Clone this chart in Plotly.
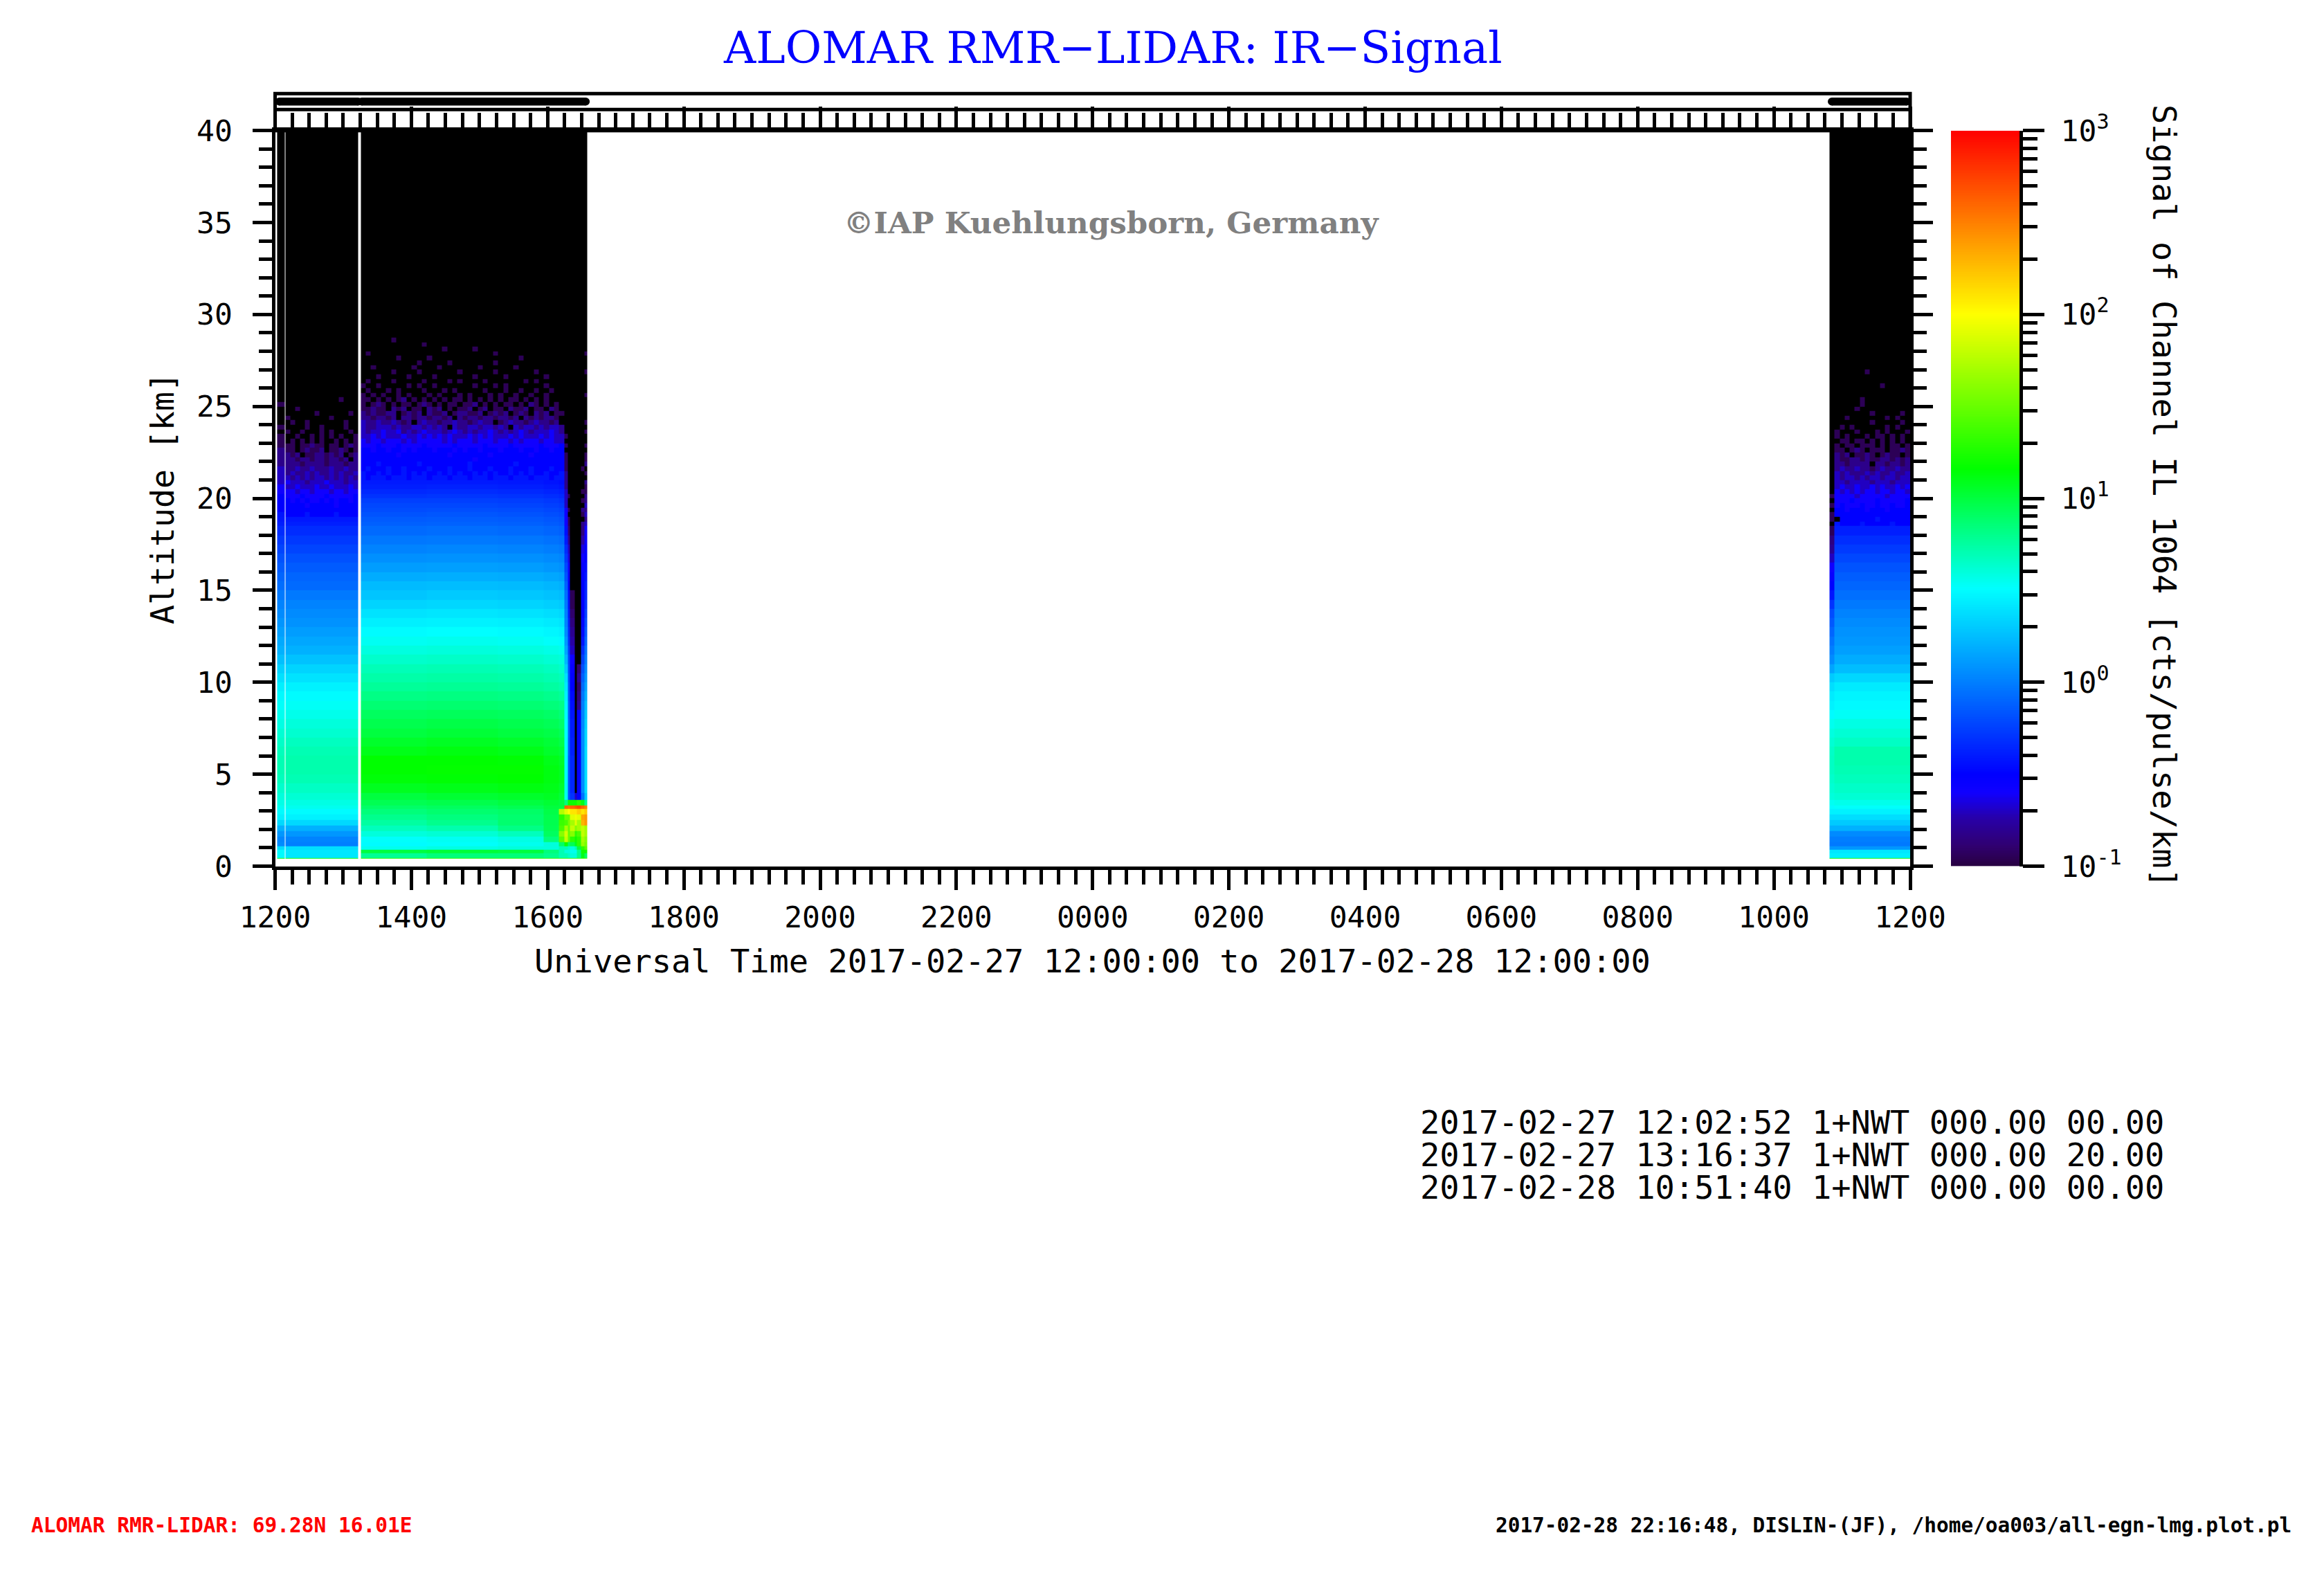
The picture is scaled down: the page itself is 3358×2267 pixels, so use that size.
import numpy as np
import plotly.graph_objects as go

W, H = 3358, 2267
PX_L, PX_R, PX_T, PX_B = 397.5, 2760.0, 188.7, 1251.5
CB_L, CB_R = 2819.0, 2918.0
STRIP_T, STRIP_B = 135.3, 158.3

TITLE = "ALOMAR RMR\u2212LIDAR: IR\u2212Signal"
WATERMARK = "\u00a9IAP Kuehlungsborn, Germany"
XLABEL = "Universal Time 2017-02-27 12:00:00 to 2017-02-28 12:00:00"
YLABEL = "Altitude [km]"
CBLABEL = "Signal of Channel IL 1064 [cts/pulse/km]"
INFO_LINES = ["2017-02-27 12:02:52 1+NWT 000.00 00.00",
              "2017-02-27 13:16:37 1+NWT 000.00 20.00",
              "2017-02-28 10:51:40 1+NWT 000.00 00.00"]
FOOT_LEFT = "ALOMAR RMR-LIDAR: 69.28N 16.01E"
FOOT_RIGHT = "2017-02-28 22:16:48, DISLIN-(JF), /home/oa003/all-egn-lmg.plot.pl"
X_TICK_HOURS = [0, 2, 4, 6, 8, 10, 12, 14, 16, 18, 20, 22, 24]
X_TICK_TEXT = ["1200", "1400", "1600", "1800", "2000", "2200", "0000",
               "0200", "0400", "0600", "0800", "1000", "1200"]
Y_TICKS = [0, 5, 10, 15, 20, 25, 30, 35, 40]
CB_TICK_EXP = [-1, 0, 1, 2, 3]

# measurement bars in the top strip (hours after 12 UT)
STRIP_RUNS = [(0.06, 1.22), (1.27, 4.56), (22.85, 23.95)]

# colour table: log10(signal) -> colour
COLOR_LOGS = [-1.0, -0.89, -0.74, -0.60, -0.50, 0.51, 1.16, 2.0, 3.0]
COLOR_HEX = ["#280040", "#300070", "#2800a8", "#1000ff", "#0000ff", "#00ffff", "#00ff00", "#ffff00", "#ff0000"]
BLACK_LOG = -1.3

# lower altitude edge of every row (km)
ALT_EDGES = [0.4, 0.44, 0.7, 0.9, 1.1, 1.3, 1.6, 1.9, 2.2, 2.5, 2.8, 3.1, 3.3, 3.6,
             4.0, 4.5, 5.0, 5.5, 6.0, 6.5, 7.0, 7.5, 8.0, 8.5, 9.0, 9.5, 10.0, 10.5, 11.0,
             11.5, 12.0, 12.5, 13.0, 13.5, 14.0, 14.5, 15.0, 15.5, 16.0, 16.5, 17.0, 17.5, 18.0,
             18.5, 18.75, 19.0, 19.25, 19.5, 19.75, 20.0, 20.25, 20.5, 20.75, 21.0, 21.25, 21.5,
             21.75, 22.0, 22.25, 22.5, 22.75, 23.0, 23.25, 23.5, 23.75, 24.0, 24.25, 24.5, 24.75,
             25.0, 25.25, 25.5, 25.75, 26.0, 26.25, 26.5, 26.75, 27.0, 27.25, 27.5, 27.75, 28.0,
             28.25, 28.5, 28.75, 29.0, 40.0]

# log10 signal profiles, bottom row first
PROFILE_A0 = [1.2, .50, .50, .38, .05, .03, .10, .20, .36, .46, .50, .54, .57, .60,
              .64, .68, .70, .70, .68, .65, .62, .58, .55, .52, .49, .45, .39, .33, .26,
              .20, .17, .13, .09, .05, .02, -.02, -.07, -.10, -.14, -.18, -.23, -.28, -.33, -.38, -.41]
PROFILE_A = [1.2, .42, .42, .38, .00, .02, .10, .20, .36, .46, .50, .55, .58, .62,
             .66, .70, .72, .72, .70, .67, .63, .60, .56, .53, .50, .46, .40, .34, .27,
             .20, .16, .12, .08, .05, .02, -.02, -.08, -.10, -.14, -.18, -.23, -.28, -.33, -.38, -.41]
PROFILE_B1 = [1.3, .78, 1.0, .55, .50, .52, .60, .68, .75, .80, .85, .90, .95, 1.0,
              1.08, 1.14, 1.16, 1.16, 1.10, 1.05, 1.0, .96, .92, .87, .82, .77, .73, .69, .64,
              .59, .54, .50, .45, .40, .34, .28, .24, .18, .12, .07, .02, -.03, -.08,
              -.12, -.14, -.17, -.20, -.22, -.25, -.30, -.34, -.38, -.40]
PROFILE_B2 = [1.3, .85, 1.02, .58, .52, .54, .62, .72, .80, .84, .88, .92, .97, 1.03,
              1.10, 1.15, 1.17, 1.16, 1.12, 1.07, 1.02, .98, .93, .88, .83, .78, .74, .70, .65,
              .60, .55, .51, .46, .41, .35, .30, .25, .19, .13, .08, .03, -.02, -.07,
              -.11, -.13, -.16, -.19, -.22, -.25, -.29, -.33, -.37, -.40]
PROFILE_B3 = [1.3, .85, 1.0, .60, .55, .58, .68, .82, .88, .88, .90, .95, 1.0, 1.05,
              1.12, 1.16, 1.17, 1.15, 1.10, 1.05, 1.0, .96, .92, .87, .82, .77, .73, .69, .64,
              .59, .54, .50, .45, .40, .34, .29, .24, .18, .12, .07, .02, -.03, -.08,
              -.12, -.14, -.17, -.20, -.23, -.26, -.30, -.34, -.38, -.41]
PROFILE_B4 = [1.3, .80, .85, .60, .60, .85, .92, .95, .96, .96, .98, 1.0, 1.03, 1.07,
              1.10, 1.12, 1.12, 1.10, 1.05, 1.02, .98, .94, .90, .85, .80, .75, .71, .67, .62,
              .57, .52, .48, .43, .38, .32, .27, .22, .16, .10, .05, .00, -.05, -.10,
              -.14, -.16, -.19, -.22, -.25, -.28, -.32, -.36, -.40, -.43]
PROFILE_B5 = [1.3, .70, .70, .70, .90, 1.45, 1.60, 1.40, 1.35, 1.30, 1.75, 1.0, 1.0, 1.02,
              1.05, 1.08, 1.08, 1.06, 1.02, .98, .94, .90, .86, .82, .77, .72, .68, .64, .60,
              .55, .50, .46, .41, .36, .30, .25, .20, .14, .08, .03, -.02, -.07, -.12,
              -.16, -.18, -.21, -.24, -.27, -.30, -.34, -.38, -.42, -.45]
PROFILE_C0 = [1.2, .45, .42, .10, -.02, .00, .05, .20, .30, .38, .46, .50, .54, .60,
              .62, .64, .66, .66, .65, .62, .59, .55, .50, .46, .43, .38, .30, .15, .05,
              .00, -.05, -.10, -.15, -.20, -.30, -.42, -.50, -.55, -.60, -.70, -.80, -.85, -.95]
PROFILE_C = [1.2, .45, .42, .10, -.02, .00, .05, .20, .30, .38, .46, .52, .56, .62,
             .65, .68, .70, .72, .72, .66, .62, .58, .53, .49, .47, .43, .35, .25, .18,
             .13, .10, .08, .05, .02, -.02, -.06, -.10, -.13, -.17, -.22, -.27, -.32, -.38]

# the columns beside the low cloud near 16:20 UT, left to right
BAND_EDGES = [4.243, 4.294, 4.324, 4.395, 4.431, 4.487, 4.538, 4.578]
PROFILE_BAND1 = [1.3, .7, .6, .7, 1.2, 1.8, 1.85, 1.7, 1.4, 1.5, 1.9, 2.6, .85, .55,
                 .55, .53, .52, .52, .52, .52, .51, .51, .50, .48, .45, .42, .38, .30, .22,
                 .15, .10, .05, .02, .00, -.03, -.07, -.12, -.17, -.22, -.28, -.33, -.40, -.45]
PROFILE_BAND2 = [1.3, .65, .6, .65, .9, 1.5, 1.5, 1.5, 1.55, 1.5, 2.0, 2.55, 1.2, -.15,
                 -.15, -.15, -.15, -.15, -.12, -.12, -.10, -.10, -.12, -.12, -.15, -.15, -.18, -.20, -.22,
                 -.25, -.30, -.33, -.36, -.40, -.43, -.46, -.50, -.55, -.60, -.65, -.70, -.80, -.90]
PROFILE_BAND3 = [1.3, .6, .55, .6, .95, 1.3, 1.6, 1.8, 1.7, 1.9, 2.1, 2.6, 1.2, -.3,
                 -.35, -.35, -.35, -.35, -.38, -.38, -.40, -.40, -.42, -.45, -.47, -.50, -.52, -.55, -.60,
                 -.70, -.75, -.80, -.85, -.90, -.95, -.95, -1.3, -1.3, -1.3, -1.3, -1.3, -1.3, -1.3]
PROFILE_BAND4 = [1.3, .6, .55, .7, 1.1, 1.2, 1.3, 1.6, 1.9, 1.95, 2.1, 2.65, 1.2, -.7,
                 -1.3, -1.3, -1.3, -1.3, -1.3, -1.3, -1.3, -1.3, -1.3, -1.3, -1.3, -1.3, -1.3, -1.3, -1.3,
                 -1.3, -1.3, -1.3, -1.3, -1.3, -1.3, -1.3, -1.3, -1.3, -1.3, -1.3, -1.3, -1.3, -1.3]
PROFILE_BAND5 = [1.3, .8, .8, 1.0, 1.3, 1.3, 1.4, 1.7, 1.7, 1.9, 2.2, 2.7, 1.3, -.5,
                 -.52, -.52, -.52, -.52, -.52, -.52, -.52, -.52, -.52, -.80, -.85, -.90, -.80, -.90, -1.3,
                 -1.3, -1.3, -1.3, -1.3, -1.3, -1.3, -1.3, -1.3, -1.3, -1.3, -1.3, -1.3, -1.3, -1.3]
PROFILE_BAND6 = [1.3, 1.1, 1.2, 1.3, 1.65, 1.7, 1.8, 1.8, 2.3, 2.35, 2.1, 2.6, 1.1, -.05,
                 .05, .05, .05, .05, .05, .05, .05, .03, .02, .00, -.03, -.07, -.12, -.18, -.25,
                 -.33, -.42, -.46, -.48, -.50, -.50, -.50, -.50, -.52, -.55, -.60, -.65, -.75, -.85]
PROFILE_BAND7 = [1.4, .9, 1.2, 1.45, 1.55, 1.6, 1.7, 1.7, 2.4, 2.4, 2.2, 2.5, .8, .3,
                 .38, .38, .38, .38, .38, .36, .35, .33, .30, .26, .20, .15, .10, .05, .00,
                 -.05, -.10, -.15, -.20, -.25, -.30, -.35, -.38, -.42, -.46, -.50, -.52, -.56, -.60]
# upper rows of those columns, from 18.5 km upwards
BAND_UPPER = ["ddddccccbbbbaaaa.a.a",
              "aa.a..a",
              "", "", "",
              "b.ab.a.a....a",
              "cbcbcbbaab.a.baa.a..a.a.....a....a...a"]

# noisy top of the signal: one letter per cell, top row first
SPECKLE_VALUES = {".": -1.3, "a": -.95, "b": -.82, "c": -.70, "d": -.60, "e": -.50, "f": -.42}

B_COLUMN_PROFILE = "1111111111111222222222222223333333334445"
B_SPECKLE = [  # rows 28.75 ... 21.0 km
    "........................................",
    "......a.................................",
    "............a...........................",
    "................a.....a.................",
    ".a........................a.............",
    ".......a.....a.................a........",
    "...........a.....a........a.............",
    "..a.......a....a.......a......a.........",
    "......a....a.......a......a.......a.....",
    "...a.....a....a.......a.....a.......a...",
    ".a....a.....a....a.a....a.......a.a.....",
    "a..a.....a.a..a.......a...a.a.......a...",
    ".a...a.a....a...a.a.....a...a..a..a..a..",
    "a.a.a..a.a...a.a...a.a...a.a..a..a..a...",
    "aa.a.a.ab.a.a.a.a.aa.a.a.a.a.aa.a.a.a...",
    "a.aba.a.aa.aba.a.aa.aab.a.a.aa.a.ba.a.a.",
    "aabaa.bab.aa.bab.a.aab.ab.aa.baab.aa.ba.",
    "babaabb.abab.baab.abbaab.abab.aba.bab.aa",
    "bbabbab.bbabbabbab.babbabbabbab.bababba.",
    "cbbcbbcbab.bcbbabbcbbabcbb.abcbbabcbbab.",
    "cbbcccbcbbccbcbcb.cbbccbccbcb.cbccbcbccb",
    "cbccdccdbcbcdcccbcdcbcbccdcbcbcdcbcccdcb",
    "ccdcdcccdccdcdcdcdcccdcdcdcccdcdcccdcdcc",
    "dcddcdddcdcdddddcdcdddcdddcddcdcdddcddcc",
    "dddedddeddddedddddedddddeddddedddddeddde",
    "eedeedeededeeedeeededeedeeedeeedeedeedee",
    "eeeeeeedeeeeeeeeedeeeeeeedeeeeeeedeeeeee",
    "eeeeeeeeeeeeeeeeeeeeeedeeeeeeeeeeeeeeeee",
    "eeefeeeeeeefeeeeeeeeefeeeeeeeefeeeeeeeee",
    "efeeefeefeeeefeeefeeefeeefeeefeeefeeefee",
    "feefefeefefefeefefefeefefefeefefefeefeef",
    "fefffefffefffefffefffefffefffefffefffeff",
]
A_SPECKLE = [  # rows 25.5 ... 19.0 km; first letter is the narrow first column
    "................",
    "............a...",
    "a...............",
    "...a............",
    ".......a......a.",
    ".a........a.....",
    "..a..a.......a..",
    "a....a..a....a..",
    ".a..a...a.a...a.",
    "a..a..a.a.a.a..a",
    "a.a.a.a.a..a.a.a",
    "aaa.aabaa.aa.aba",
    "baa.abaab.aaba.a",
    "bbab.aabbabab.ab",
    "bbbabbabbabbab.b",
    "bbbbabbbbabbbabb",
    "cbbcbbcbbbcbbcbb",
    "cbcbbcbcbbcbcbbc",
    "ccbcbcbccbcbcbcb",
    "cdcccbcccdcccbcc",
    "dccdcccdccdcccdc",
    "dddcddcdddcddcdd",
    "edddeddddeddddde",
    "eedededdededeede",
    "eeeeedeeeeedeeee",
    "eeeeeeeeeeeeeeee",
    "feeeefeeeeefeeee",
]
C_SPECKLE = [  # rows 26.75 ... 18.5 km; first letter is the narrow first column
    ".......a........",
    "................",
    "................",
    "..........a.....",
    "................",
    "................",
    "......a.........",
    "......a.........",
    ".....a..........",
    "........a.....a.",
    "...a.......a.a..",
    "........a.....a.",
    "..a.a......a.a..",
    ".a...a...a.a...a",
    ".a.a...a.aa.a.a.",
    "..aa.aa.a.a.a.a.",
    ".a.aa.aaa.a.aa.a",
    ".aa.aba.aaa.aaba",
    ".bab.aaba.abaa.a",
    ".baabbabaabbabab",
    ".bbabbbb.bbabbab",
    ".bcbbcbbabcbbcbb",
    ".cbcbbbcbcbbcbbc",
    ".cbccbcbccbccbcc",
    ".ccbccccbcccbccc",
    ".cdccdccdcdccdcd",
    ".dcdcdcddcddcddc",
    "addddcdddddcdddd",
    ".dddeddddeddddde",
    "adedddeddeddedde",
    ".eedeeedeeedeeee",
    "aeeeeeeeeeeeeeee",
    "a.eeeeeeefeeeeee",
    ".feeeefeeeeefeee",
]

# time limits of the pieces (hours after 12 UT)
A0_START, A0_END, A_START, A_END = 0.03, 0.139, 0.15, 1.216
B_START, B_END = 1.256, 4.243
C0_START, C_START, C_END = 22.82, 22.89, 24.0

N_ROWS = len(ALT_EDGES) - 1


def column(profile, cells):
    vals = list(profile) + [SPECKLE_VALUES[c] for c in cells]
    assert len(vals) <= N_ROWS
    return vals + [BLACK_LOG] * (N_ROWS - len(vals))


def table_column(table, j):
    return [row[j] for row in reversed(table)]


B_PROFILES = {"1": PROFILE_B1, "2": PROFILE_B2, "3": PROFILE_B3, "4": PROFILE_B4, "5": PROFILE_B5}

x_edges, z_columns = [], []
GAP = [None] * N_ROWS


def add(x0, x1, col):
    if not x_edges:
        x_edges.append(x0)
    elif abs(x_edges[-1] - x0) > 1e-9:
        x_edges.append(x0)
        z_columns.append(GAP)
    x_edges.append(x1)
    z_columns.append(col)


add(A0_START, A0_END, column(PROFILE_A0, table_column(A_SPECKLE, 0)))
a_edges = np.linspace(A_START, A_END, 16)
for j in range(15):
    add(a_edges[j], a_edges[j + 1], column(PROFILE_A, table_column(A_SPECKLE, j + 1)))
b_edges = np.linspace(B_START, B_END, 41)
for j in range(40):
    add(b_edges[j], b_edges[j + 1], column(B_PROFILES[B_COLUMN_PROFILE[j]], table_column(B_SPECKLE, j)))
BAND_PROFILES = [PROFILE_BAND1, PROFILE_BAND2, PROFILE_BAND3, PROFILE_BAND4, PROFILE_BAND5, PROFILE_BAND6, PROFILE_BAND7]
for j in range(7):
    add(BAND_EDGES[j], BAND_EDGES[j + 1], column(BAND_PROFILES[j], BAND_UPPER[j]))
add(C0_START, C_START, column(PROFILE_C0, table_column(C_SPECKLE, 0)))
c_edges = np.linspace(C_START, C_END, 16)
for j in range(15):
    add(c_edges[j], c_edges[j + 1], column(PROFILE_C, table_column(C_SPECKLE, j + 1)))

z = [[z_columns[c][r] for c in range(len(z_columns))] for r in range(N_ROWS)]


def px_x(v):
    return v / W


def px_y(v):
    return 1 - v / H


# colour scales
span = COLOR_LOGS[-1] - COLOR_LOGS[0]
cb_scale = [[(l - COLOR_LOGS[0]) / span, c] for l, c in zip(COLOR_LOGS, COLOR_HEX)]
hm_span = COLOR_LOGS[-1] - BLACK_LOG
hm_scale = [[0, "#000000"], [(COLOR_LOGS[0] - 0.001 - BLACK_LOG) / hm_span, "#000000"]]
hm_scale += [[(l - BLACK_LOG) / hm_span, c] for l, c in zip(COLOR_LOGS, COLOR_HEX)]

fig = go.Figure()
fig.add_trace(go.Heatmap(x=x_edges, y=ALT_EDGES, z=z, zmin=BLACK_LOG, zmax=3, colorscale=hm_scale,
                         showscale=False, hoverongaps=False, xaxis="x", yaxis="y"))

# colour bar drawn on its own axis
cb_edges = np.linspace(-1, 3, 401)
cb_z = [[0.5 * (cb_edges[i] + cb_edges[i + 1])] for i in range(400)]
fig.add_trace(go.Heatmap(x=[0, 1], y=cb_edges, z=cb_z, zmin=-1, zmax=3, colorscale=cb_scale,
                         showscale=False, xaxis="x2", yaxis="y2"))

# measurement bars on top
for x0, x1 in STRIP_RUNS:
    fig.add_trace(go.Scatter(x=[x0, x1], y=[0, 0], mode="lines+markers",
                             line=dict(color="black", width=11.5),
                             marker=dict(color="black", size=11.5, symbol="circle", line=dict(width=0)),
                             showlegend=False, xaxis="x3", yaxis="y3", hoverinfo="skip", cliponaxis=False))

TICK_FONT = dict(family="DejaVu Sans Mono", size=43, color="black")
dom_x = [px_x(PX_L), px_x(PX_R)]
dom_y = [px_y(PX_B), px_y(PX_T)]
cb_minor = [float(np.log10(m * 10.0 ** e)) for e in CB_TICK_EXP[:-1] for m in range(2, 10)]

fig.update_layout(
    width=W, height=H, autosize=False, margin=dict(l=0, r=0, t=0, b=0, autoexpand=False),
    paper_bgcolor="white", plot_bgcolor="rgba(0,0,0,0)", showlegend=False,
    xaxis=dict(domain=dom_x, range=[0, 24], anchor="y", tickmode="array", tickvals=X_TICK_HOURS,
               ticktext=X_TICK_TEXT, ticks="outside", ticklen=29.5, tickwidth=5, tickcolor="black",
               showline=True, linewidth=5, linecolor="black", mirror="ticks", showgrid=False, zeroline=False,
               tickfont=TICK_FONT, ticklabelstandoff=2,
               minor=dict(dtick=0.25, tick0=0, ticks="outside", ticklen=21, tickwidth=5, tickcolor="black", showgrid=False)),
    yaxis=dict(domain=dom_y, range=[0, 40], anchor="x", tickmode="array", tickvals=Y_TICKS,
               ticks="outside", ticklen=28, tickwidth=5, tickcolor="black",
               showline=True, linewidth=5, linecolor="black", mirror="ticks", showgrid=False, zeroline=False,
               tickfont=TICK_FONT, ticklabelstandoff=20,
               minor=dict(dtick=1, tick0=0, ticks="outside", ticklen=19, tickwidth=5, tickcolor="black", showgrid=False)),
    xaxis2=dict(domain=[px_x(CB_L), px_x(CB_R)], range=[0, 1], anchor="y2", visible=False),
    yaxis2=dict(domain=dom_y, range=[-1, 3], anchor="x2", side="right", tickmode="array",
                tickvals=CB_TICK_EXP, ticktext=["10<sup>%d</sup>" % e for e in CB_TICK_EXP],
                ticks="outside", ticklen=31, tickwidth=5, tickcolor="black",
                showline=True, linewidth=5, linecolor="black", showgrid=False, zeroline=False,
                tickfont=TICK_FONT, ticklabelstandoff=15,
                minor=dict(tickmode="array", tickvals=cb_minor, ticks="outside", ticklen=21, tickwidth=5,
                           tickcolor="black", showgrid=False)),
    xaxis3=dict(domain=dom_x, range=[0, 24], anchor="y3", visible=False),
    yaxis3=dict(domain=[px_y(STRIP_B), px_y(STRIP_T)], range=[-1, 1], anchor="x3", visible=False),
)

# box of the top strip
fig.add_shape(type="rect", xref="paper", yref="paper", x0=px_x(PX_L), x1=px_x(PX_R),
              y0=px_y(PX_T), y1=px_y(STRIP_T), line=dict(color="black", width=5), layer="above")
fig.add_shape(type="line", xref="paper", yref="paper", x0=px_x(PX_L), x1=px_x(PX_R),
              y0=px_y(STRIP_B), y1=px_y(STRIP_B), line=dict(color="black", width=5), layer="above")


def text(s, x, y, size, family="DejaVu Sans Mono", color="black", angle=0, xanchor="center", bold=False):
    fig.add_annotation(text="<b>%s</b>" % s if bold else s, x=px_x(x), y=px_y(y), xref="paper", yref="paper", showarrow=False,
                       xanchor=xanchor, yanchor="middle", textangle=angle,
                       font=dict(family=family, size=size, color=color))


text(TITLE, 1608, 69, 64, family="DejaVu Serif", color="#0000ff")
text(WATERMARK, 1606, 321, 43.6, family="DejaVu Serif", color="#808080", bold=True)
text(XLABEL, 1578, 1388, 47)
text(YLABEL, 235, 720, 46.5, angle=-90)
text(CBLABEL, 3127, 717, 47, angle=90)
for line, y in zip(INFO_LINES, [1621, 1668, 1715]):
    text(line, 3129, y, 47, xanchor="right")
text(FOOT_LEFT, 43, 2204, 29.5, color="#ff0000", xanchor="left", bold=True)
text(FOOT_RIGHT, 3313, 2204, 29.4, xanchor="right", bold=True)

fig.write_html("out.html", config=dict(displayModeBar=False),
               post_script="document.body.style.margin='0';document.documentElement.style.overflow='hidden';")
